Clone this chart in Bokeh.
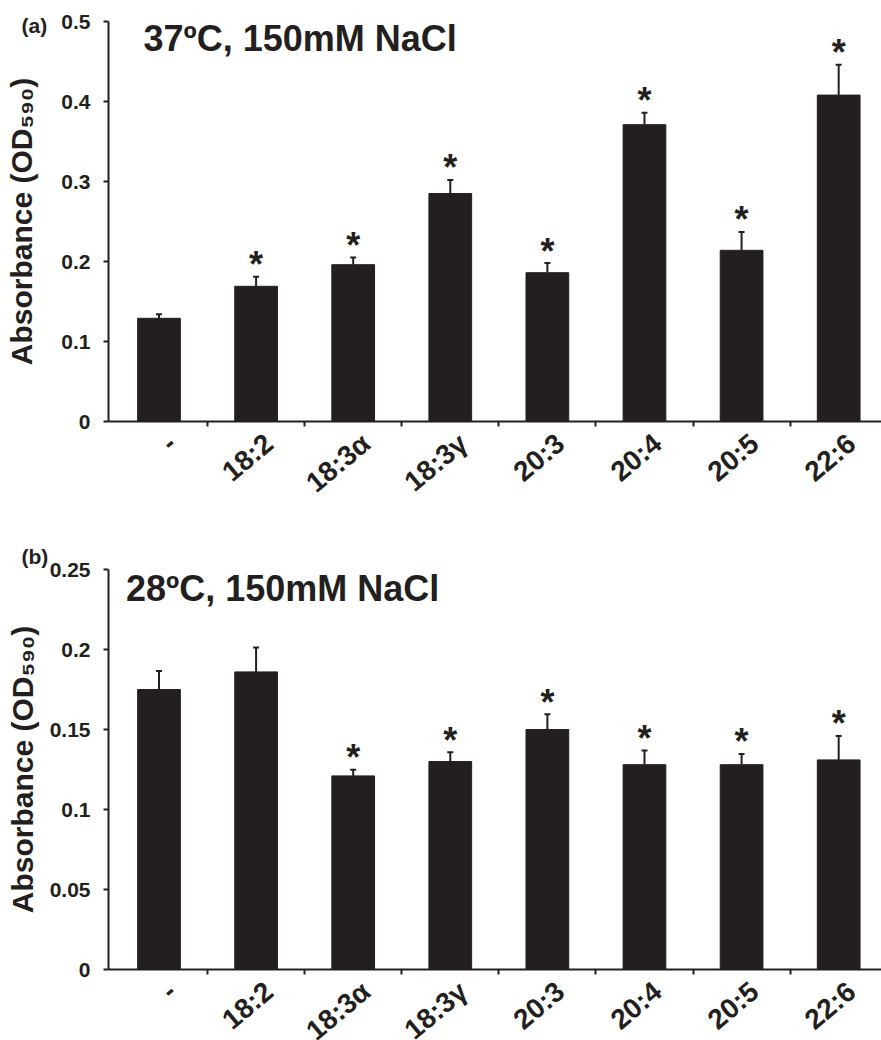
import math
from bokeh.plotting import figure
from bokeh.models import (ColumnDataSource, FixedTicker, Whisker, TeeHead,
                          LabelSet, Label, Range1d)
from bokeh.core.properties import value
from bokeh.layouts import column
from bokeh.embed import file_html
from bokeh.resources import INLINE

# ---------------- data ----------------
categories = ["-", "18:2", "18:3α", "18:3γ", "20:3", "20:4", "20:5", "22:6"]

means_37 = [0.129, 0.169, 0.196, 0.285, 0.186, 0.371, 0.214, 0.408]
errs_37 = [0.005, 0.012, 0.009, 0.017, 0.012, 0.015, 0.023, 0.038]
sig_37 = [False, True, True, True, True, True, True, True]

means_28 = [0.175, 0.186, 0.121, 0.130, 0.150, 0.128, 0.128, 0.131]
errs_28 = [0.0115, 0.0153, 0.0038, 0.0058, 0.0096, 0.0088, 0.0067, 0.015]
sig_28 = [False, False, True, True, True, True, True, True]

yticks_37 = [0, 0.1, 0.2, 0.3, 0.4, 0.5]
ytick_labels_37 = ["0", "0.1", "0.2", "0.3", "0.4", "0.5"]
yticks_28 = [0, 0.05, 0.1, 0.15, 0.2, 0.25]
ytick_labels_28 = ["0", "0.05", "0.1", "0.15", "0.2", "0.25"]

title_37 = "37ºC, 150mM NaCl"
title_28 = "28ºC, 150mM NaCl"
y_label = "Absorbance (OD₅₉₀)"

INK = "#231f20"
FONT = "Liberation Sans"
FRAME_W = 773
AXIS_B = 9                      # bottom border holding the x ticks
XR = Range1d(-0.02, 7.941)       # shared category axis (bar i at i + 0.5)
XS = [i + 0.5 for i in range(len(categories))]


def style_fig(p):
    p.outline_line_color = None
    p.xgrid.visible = False
    p.ygrid.visible = False
    p.background_fill_color = "white"
    p.border_fill_color = "white"


def make_panel(means, errs, sig, yticks, ylabels, title, letter, title_pos,
               border_top, ylab_standoff, letter_standoff):
    n = len(categories)
    ymax = yticks[-1]
    p = figure(frame_width=FRAME_W, frame_height=400,
               x_range=XR, y_range=Range1d(0, ymax),
               output_backend="svg", toolbar_location=None,
               min_border_left=108, min_border_right=0,
               min_border_top=border_top, min_border_bottom=AXIS_B)
    style_fig(p)

    # panel letter as the figure title, pushed to the far left
    p.title.text = letter
    p.title.align = "left"
    p.title.offset = -87
    p.title.standoff = letter_standoff
    p.title.text_font = FONT
    p.title.text_font_style = "bold"
    p.title.text_font_size = "21px"
    p.title.text_line_height = 1.0
    p.title.text_color = INK

    src = ColumnDataSource(dict(
        x=XS, mean=means, upper=[m + e for m, e in zip(means, errs)],
    ))
    p.vbar(x="x", top="mean", bottom=0, width=0.44, source=src,
           fill_color=INK, line_color=INK, line_width=1)

    p.add_layout(Whisker(source=src, base="x", lower="mean", upper="upper",
                         dimension="height", line_color=INK, line_width=2,
                         upper_head=TeeHead(size=6, line_color=INK,
                                            line_width=2),
                         lower_head=None, level="overlay"))

    # significance asterisks
    sx = [x for x, s in zip(XS, sig) if s]
    sy = [m + e for m, e, s in zip(means, errs, sig) if s]
    ssrc = ColumnDataSource(dict(x=sx, y=sy, t=["*"] * len(sx)))
    p.add_layout(LabelSet(x="x", y="y", text="t", source=ssrc,
                          text_align="center", text_baseline="middle",
                          y_offset=12, text_font=value(FONT),
                          text_font_style="bold",
                          text_font_size="36px", text_color=INK))

    # x axis: line plus small ticks between bars (labels drawn separately)
    xa = p.xaxis[0]
    xa.ticker = FixedTicker(ticks=list(range(1, n)))
    xa.major_label_overrides = {t: "" for t in range(1, n)}
    xa.major_label_text_font_size = "1px"
    xa.major_label_standoff = 0
    xa.major_tick_out = 5
    xa.major_tick_in = 0
    xa.minor_tick_out = 0
    xa.minor_tick_in = 0

    ya = p.yaxis[0]
    ya.ticker = FixedTicker(ticks=yticks)
    ya.major_label_overrides = {t: l for t, l in zip(yticks, ylabels)}
    ya.major_tick_out = 5
    ya.major_tick_in = 0
    ya.minor_tick_out = 0
    ya.minor_tick_in = 0
    ya.major_label_standoff = 13
    ya.major_label_text_font = FONT
    ya.major_label_text_font_style = "bold"
    ya.major_label_text_font_size = "21px"
    ya.major_label_text_color = INK
    ya.axis_label = y_label
    ya.axis_label_text_font = FONT
    ya.axis_label_text_font_style = "bold"
    ya.axis_label_text_font_size = "30px"
    ya.axis_label_text_color = INK
    ya.axis_label_standoff = ylab_standoff

    for ax in (xa, ya):
        ax.axis_line_width = 2
        ax.axis_line_color = INK
        ax.major_tick_line_width = 2
        ax.major_tick_line_color = INK

    p.add_layout(Label(x=title_pos[0], y=title_pos[1], text=title,
                       text_font=FONT, text_font_style="bold",
                       text_font_size="36px", text_color=INK,
                       text_baseline="alphabetic", text_align="left"))
    return p


def make_labels(strip_h):
    """Strip under a panel carrying the rotated category labels.
    Its y scale is in pixels, with 0 on the panel's x-axis line."""
    q = figure(frame_width=FRAME_W, frame_height=strip_h, title=None,
               x_range=XR, y_range=Range1d(-(strip_h + AXIS_B), -AXIS_B),
               x_axis_location=None, y_axis_location=None,
               output_backend="svg", toolbar_location=None,
               min_border_left=108, min_border_right=0,
               min_border_top=0, min_border_bottom=0)
    style_fig(q)
    src = ColumnDataSource(dict(x=XS, y=[0] * len(XS), cat=categories))
    q.add_layout(LabelSet(x="x", y="y", text="cat", source=src,
                          text_align="right", text_baseline="middle",
                          angle=math.radians(40), x_offset=13, y_offset=-18,
                          text_font=value(FONT), text_font_style="bold",
                          text_font_size="28px", text_color=INK))
    return q


p1 = make_panel(means_37, errs_37, sig_37, yticks_37, ytick_labels_37,
                title_37, "(a)", (0.34, 0.479), 21, 20, -30)
l1 = make_labels(101)
p2 = make_panel(means_28, errs_28, sig_28, yticks_28, ytick_labels_28,
                title_28, "(b)", (0.16, 0.2383), 38, 8, 3)
l2 = make_labels(62)

layout = column(p1, l1, p2, l2, spacing=0)
open("out.html", "w").write(file_html(layout, INLINE))
